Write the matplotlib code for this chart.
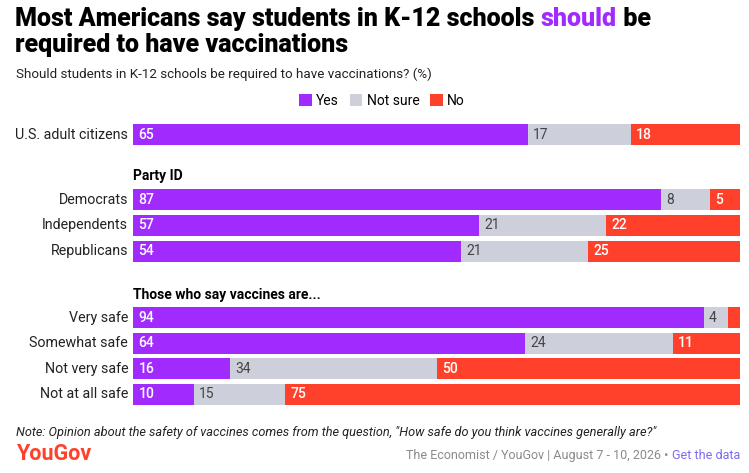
import matplotlib
matplotlib.use("Agg")
import matplotlib.pyplot as plt
from matplotlib.patches import Patch

# ---- data ------------------------------------------------------------------
categories = ["U.S. adult citizens", "Democrats", "Independents", "Republicans",
              "Very safe", "Somewhat safe", "Not very safe", "Not at all safe"]
yes = [65, 87, 57, 54, 94, 64, 16, 10]
not_sure = [17, 8, 21, 21, 4, 24, 34, 15]
no = [18, 5, 22, 25, 2, 11, 50, 75]
series_names = ["Yes", "Not sure", "No"]
group_headers = ["Party ID", "Those who say vaccines are..."]

# ---- layout / style --------------------------------------------------------
row_pos = [0, 2.55, 3.55, 4.55, 7.15, 8.15, 9.15, 10.15]
header_pos = [1.62, 6.25]
colors = ["#A12BFF", "#CDD0DA", "#FF412C"]
text_colors = ["white", "#444444", "white"]
plt.rcParams["font.family"] = ["Roboto", "DejaVu Sans"]

W, H = 749, 473
fig = plt.figure(figsize=(W / 100, H / 100), dpi=100)


def fx(px):
    return px / W


def fy(py):
    return 1 - py / H


# rows are rounded, so stretch each one to a full 100% bar
totals = [a + b + c for a, b, c in zip(yes, not_sure, no)]

bar_h = 0.82
ax = fig.add_axes([fx(133), fy(405), fx(740) - fx(133), fy(124) - fy(405)])
left = [0] * len(categories)
for vals, col, tcol in zip([yes, not_sure, no], colors, text_colors):
    widths = [v * 100 / t for v, t in zip(vals, totals)]
    ax.barh(row_pos, widths, left=left, height=bar_h, color=col, linewidth=0)
    for y, v, l in zip(row_pos, vals, left):
        if v >= 4:
            ax.text(l + 0.9, y, str(v), ha="left", va="center", fontsize=10,
                    color=tcol, fontweight="medium" if tcol == "white" else "normal")
    left = [a + b for a, b in zip(left, widths)]

ax.set_xlim(0, 100)
ax.set_ylim(row_pos[-1] + bar_h / 2, -bar_h / 2)
ax.axis("off")
for y, c in zip(row_pos, categories):
    ax.text(-0.8, y, c, ha="right", va="center", fontsize=10.3, color="#222222")
for y, h in zip(header_pos, group_headers):
    ax.text(0, y, h, ha="left", va="center", fontsize=10,
            fontweight="bold", color="black")

# ---- title (with coloured word) --------------------------------------------
renderer = fig.canvas.get_renderer()
tkw = dict(fontsize=18, fontweight="black", va="baseline")
t1 = fig.text(fx(15), fy(26), "Most Americans say students in K-12 schools ",
              color="black", **tkw)
bb = t1.get_window_extent(renderer)
t2 = fig.text(bb.x1 / W, fy(26), "should", color=colors[0], **tkw)
bb = t2.get_window_extent(renderer)
fig.text(bb.x1 / W, fy(26), " be", color="black", **tkw)
fig.text(fx(15), fy(52), "required to have vaccinations", color="black", **tkw)

fig.text(fx(16), fy(74), "Should students in K-12 schools be required to have "
         "vaccinations? (%)", fontsize=9.6, color="#222222", va="center")

handles = [Patch(facecolor=c, edgecolor="none") for c in colors]
fig.legend(handles, series_names, loc="center", bbox_to_anchor=(fx(382), fy(101)),
           ncol=3, frameon=False, fontsize=10, handlelength=0.9,
           handleheight=0.9, handletextpad=0.3, columnspacing=0.8)

# ---- footer ------------------------------------------------------------------
fig.text(fx(16), fy(432), "Note: Opinion about the safety of vaccines comes from "
         "the question, \"How safe do you think vaccines generally are?\"",
         fontsize=9.2, style="italic", color="#222222", va="center")
fig.text(fx(16), fy(454), "YouGov", fontsize=15.5, fontweight="bold",
         color="#FF412C", va="center")
g = fig.text(fx(740), fy(455), "Get the data", fontsize=9, color="#7B6BF0",
             ha="right", va="center")
bb = g.get_window_extent(renderer)
fig.text(bb.x0 / W, fy(455), "The Economist / YouGov | August 7 - 10, 2026 \u2022 ",
         fontsize=9, color="#8A8A8A", ha="right", va="center")

fig.savefig("out.png", dpi=100)
